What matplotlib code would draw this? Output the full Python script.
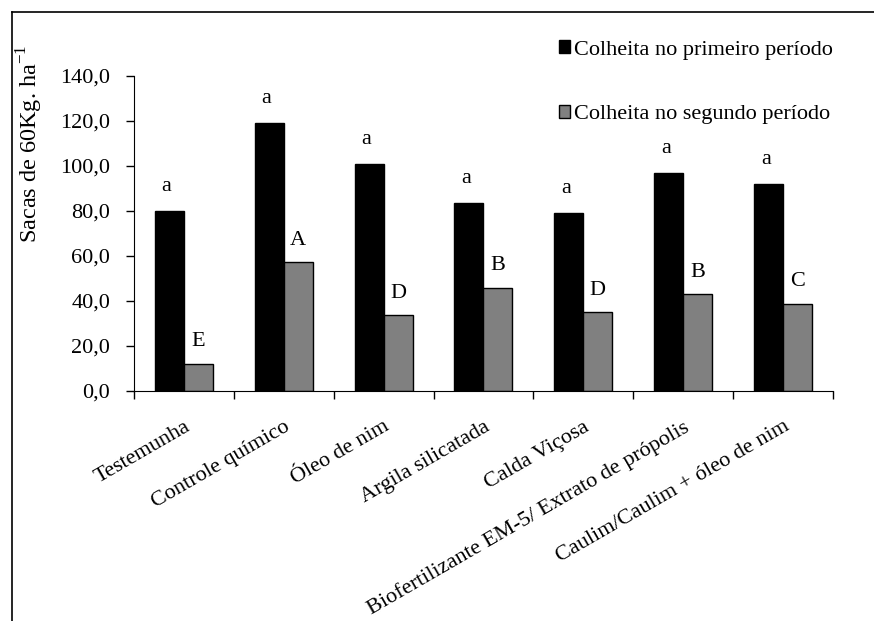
import numpy as np
import matplotlib
matplotlib.use("Agg")
import matplotlib.pyplot as plt
from matplotlib.lines import Line2D
from matplotlib.ticker import FuncFormatter

plt.rcParams["font.family"] = ["Liberation Serif", "DejaVu Serif"]

# ---- DATA ----
categories = [
    "Testemunha",
    "Controle químico",
    "Óleo de nim",
    "Argila silicatada",
    "Calda Viçosa",
    "Biofertilizante EM-5/ Extrato de própolis",
    "Caulim/Caulim + óleo de nim",
]
primeiro = [80.0, 119.0, 100.8, 83.6, 79.2, 96.9, 92.0]
segundo = [12.0, 57.3, 33.7, 45.8, 35.0, 43.0, 38.7]
letras_primeiro = ["a", "a", "a", "a", "a", "a", "a"]
letras_segundo = ["E", "A", "D", "B", "D", "B", "C"]

fig = plt.figure(figsize=(8.74, 6.21), dpi=100)
ax = fig.add_axes([0.1533, 0.3704, 0.7997, 0.5072])

x = np.arange(len(categories))
w = 0.29

b1 = ax.bar(x - w / 2, primeiro, w, color="black", edgecolor="black",
            linewidth=1, label="Colheita no primeiro período")
b2 = ax.bar(x + w / 2, segundo, w, color="#808080", edgecolor="black",
            linewidth=1, label="Colheita no segundo período")

# ---- LETTERS ABOVE BARS ----
for xi, v, t in zip(x, primeiro, letras_primeiro):
    ax.annotate(t, (xi - w / 2, v), xytext=(-2, 11), textcoords="offset points",
                ha="center", va="bottom", fontsize=16)
for xi, v, t in zip(x, segundo, letras_segundo):
    ax.annotate(t, (xi + w / 2, v), xytext=(0, 9), textcoords="offset points",
                ha="center", va="bottom", fontsize=16)

# ---- AXES FORMATTING ----
ax.set_xlim(-0.5, len(categories) - 0.5)
ax.set_ylim(0, 140)
ax.set_yticks(np.arange(0, 141, 20))
ax.yaxis.set_major_formatter(FuncFormatter(lambda v, p: f"{v:.1f}".replace(".", ",")))
ax.set_xticks(np.arange(-0.5, len(categories), 1))
ax.set_xticklabels([])
ax.set_xticks(x, minor=True)
ax.set_xticklabels(categories, minor=True, rotation=30, ha="right",
                   rotation_mode="anchor", fontsize=16)
ax.tick_params(axis="x", which="minor", length=0, pad=19)
ax.tick_params(axis="x", which="major", length=6, direction="out", width=1)
ax.tick_params(axis="y", length=6, direction="out", width=1, labelsize=16, pad=11)
ax.spines["top"].set_visible(False)
ax.spines["right"].set_visible(False)

fig.text(0.034, 0.768, r"Sacas de 60Kg. ha$^{\mathregular{-1}}$", rotation=90,
         ha="center", va="center", fontsize=17.5)

fig.legend(handles=[b1, b2], loc="upper left", bbox_to_anchor=(0.622, 0.96),
           frameon=False, fontsize=16, handlelength=0.5, handleheight=0.5,
           handletextpad=0.15, labelspacing=2.05, borderpad=0.2)

# ---- OUTER FRAME (left and top edges) ----
fig.add_artist(Line2D([0.014, 0.014], [0.0, 0.981], color="black", linewidth=1.2))
fig.add_artist(Line2D([0.014, 1.0], [0.981, 0.981], color="black", linewidth=1.2))

fig.savefig("out.png", dpi=100)
